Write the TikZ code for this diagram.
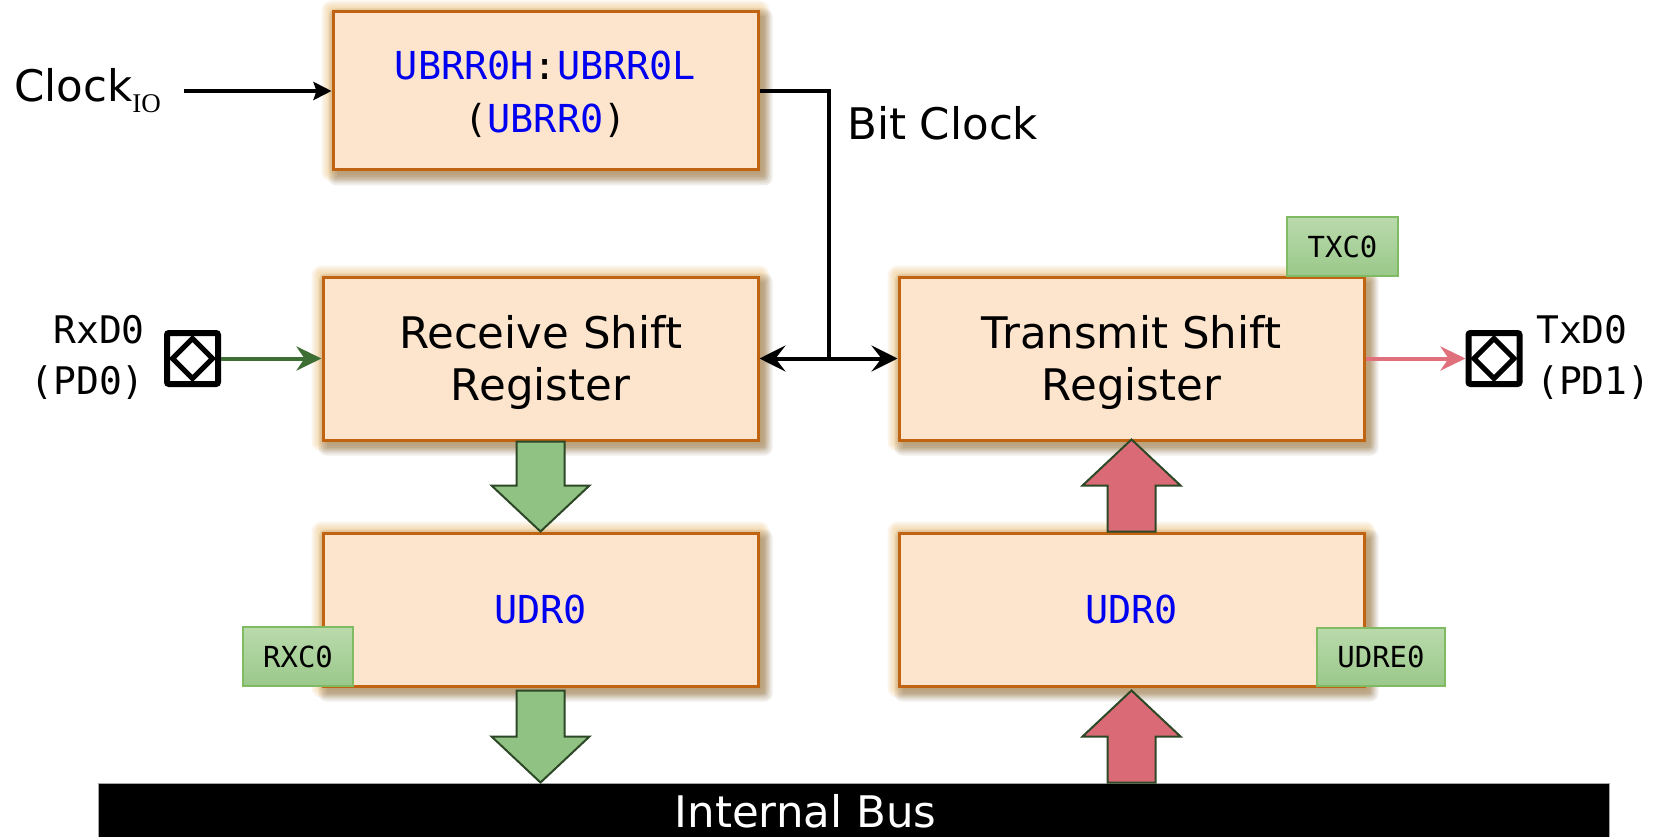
\documentclass[tikz,border=0pt]{standalone}
\usepackage{fontspec}
\setmainfont{DejaVu Sans}
\newfontfamily\monof{DejaVu Sans Mono}
\newfontfamily\subf{Liberation Serif}
\usetikzlibrary{arrows.meta,calc,backgrounds}

\definecolor{regfill}{RGB}{252,228,205}
\definecolor{regline}{RGB}{192,100,18}
\definecolor{glow}{RGB}{228,168,72}
\definecolor{dropshade}{RGB}{120,95,60}
\definecolor{flagtop}{RGB}{186,218,172}
\definecolor{flagbot}{RGB}{154,200,138}
\definecolor{flagline}{RGB}{128,186,98}
\definecolor{rxfill}{RGB}{144,195,131}
\definecolor{txfill}{RGB}{217,106,118}
\definecolor{blockline}{RGB}{45,72,38}
\definecolor{rxwire}{RGB}{61,110,52}
\definecolor{txwire}{RGB}{224,112,124}
\definecolor{regname}{RGB}{0,0,240}

\newcommand\regn[1]{\textcolor{regname}{#1}}
% centred stack of lines, drawn #1 lower than its box
\newcommand\lowered[2]{\raisebox{-#1}[\height][\depth]{\begin{tabular}{@{}c@{}}#2\end{tabular}}}
% wide hollow arrow from tail point #2 to tip #3, head length #4 (signed)
\newcommand\blockarrow[4]{%
  \draw[#1] ($(#2)+(-24,0)$) -- ($(#3)+(-24,#4)$) -- ($(#3)+(-49,#4)$) -- (#3)
    -- ($(#3)+(49,#4)$) -- ($(#3)+(24,#4)$) -- ($(#2)+(24,0)$) -- cycle;}

\begin{document}
\begin{tikzpicture}[x=1pt,y=-1pt,
  reg/.style={draw=regline, fill=regfill, line width=3pt, align=center, inner sep=0},
  sanstext/.style={font=\fontsize{43.5}{52}\selectfont},
  monotext/.style={font=\monof\fontsize{38.5}{53}\selectfont},
  flag/.style={draw=flagline, line width=1.5pt, top color=flagtop, bottom color=flagbot,
    font=\monof\fontsize{29}{29}\selectfont, inner sep=0},
  pin/.style={draw, line width=6pt, minimum size=51, inner sep=0, rounded corners=2pt},
  diam/.style={line width=5pt, line join=miter},
  wire/.style={line width=4pt},
  rxblock/.style={draw=blockline, fill=rxfill, line width=2pt, line join=miter},
  txblock/.style={draw=blockline, fill=txfill, line width=2pt, line join=miter},
  bigtip/.tip={Stealth[length=26pt,width=26pt,inset=10pt]},
  pintip/.tip={Stealth[length=25pt,width=24pt,inset=8pt]}
]
\useasboundingbox (0,0) rectangle (1654,837);

% registers
\node[reg, monotext, minimum width=425, minimum height=158] (ubrr) at (545.5,91)
  {\lowered{4pt}{\regn{UBRR0H}:\regn{UBRR0L}\\(\regn{UBRR0})}};
\node[reg, sanstext, minimum width=435, minimum height=163] (rsr) at (540.5,358.5)
  {\lowered{6pt}{Receive Shift\\Register}};
\node[reg, sanstext, minimum width=465, minimum height=163] (tsr) at (1131.5,358.5)
  {\lowered{6pt}{Transmit Shift\\Register}};
\node[reg, monotext, minimum width=435, minimum height=153] (rud) at (540.5,609.5) {\regn{UDR0}};
\node[reg, monotext, minimum width=465, minimum height=153] (tud) at (1131.5,609.5) {\regn{UDR0}};

% golden glow and drop shadow behind the registers
\begin{scope}[on background layer]
  \foreach \b in {ubrr,rsr,tsr,rud,tud}{
    \foreach \r in {2,4,...,10}{
      \fill[glow, opacity=0.11, rounded corners=\r pt]
        ($(\b.north west)+(-\r,-\r)$) rectangle ($(\b.south east)+(\r,\r)$);
    }
    \foreach \r in {0,2,...,8}{
      \fill[dropshade, opacity=0.11, rounded corners=\r pt]
        ($(\b.north west)+(5-\r,6-\r)$) rectangle ($(\b.south east)+(5+\r,6+\r)$);
    }
  }
\end{scope}

% internal bus
\node[fill=black, draw=black!35, line width=1pt, minimum width=1511, minimum height=54,
  inner sep=0] (bus) at (853.5,810) {};
\node[anchor=base, text=white, sanstext, inner sep=0] (buslbl) at (805.5,827) {Internal Bus};

% data paths between the registers
\blockarrow{rxblock}{rsr.south}{rud.north}{-46}
\coordinate (rxout) at ($(rud.south)+(0,3)$);
\coordinate (rxbus) at (rud.south |- bus.north);
\blockarrow{rxblock}{rxout}{rxbus}{-46}
\coordinate (txin) at ($(tsr.south)+(0,-2)$);
\blockarrow{txblock}{tud.north}{txin}{46}
\coordinate (txbus) at (tud.south |- bus.north);
\coordinate (txup) at ($(tud.south)+(0,3)$);
\blockarrow{txblock}{txbus}{txup}{46}

% status flags
\node[flag, minimum width=111, minimum height=59] (txc) at (1342.5,246.5) {TXC0};
\node[flag, minimum width=110, minimum height=59] (rxc) at (298,656.5) {RXC0};
\node[flag, minimum width=128, minimum height=58] (udre) at (1381,657) {UDRE0};

% clock input
\node[anchor=base west, inner sep=0, sanstext] (clk) at (14,102)
  {Clock\raisebox{-11pt}{\subf\fontsize{27}{27}\selectfont IO}};
\coordinate (clkin) at (184,91);
\draw[wire, -{Stealth[length=18pt,width=18pt,inset=3pt]}] (clkin) -- (ubrr.west);

% bit clock distribution
\coordinate (bcturn) at (829,91);
\draw[wire] (ubrr.east) -- (bcturn) -- (bcturn |- rsr.east);
\draw[wire, {bigtip}-{bigtip}] (rsr.east) -- (tsr.west);
\node[anchor=base west, inner sep=0, sanstext] (bitclk) at (847,140) {Bit Clock};

% pins
\node[pin] (rxpin) at (192.5,358.5) {};
\draw[diam] ($(rxpin.center)+(-20,0)$) -- ++(20,-20) -- ++(20,20) -- ++(-20,20) -- cycle;
\node[pin] (txpin) at (1494,358.5) {};
\draw[diam] ($(txpin.center)+(-20,0)$) -- ++(20,-20) -- ++(20,20) -- ++(-20,20) -- cycle;
\node[anchor=east, align=right, inner sep=0, font=\monof\fontsize{38}{51}\selectfont]
  (rxlbl) at (145,357) {RxD0\\(PD0)};
\node[anchor=west, align=left, inner sep=0, font=\monof\fontsize{38}{51}\selectfont]
  (txlbl) at (1536,357) {TxD0\\(PD1)};
\draw[wire, draw=rxwire, -{pintip}, rxwire] (rxpin.east) -- (rsr.west);
\draw[wire, draw=txwire, -{pintip}, txwire] (tsr.east) -- (txpin.west);
\end{tikzpicture}
\end{document}
